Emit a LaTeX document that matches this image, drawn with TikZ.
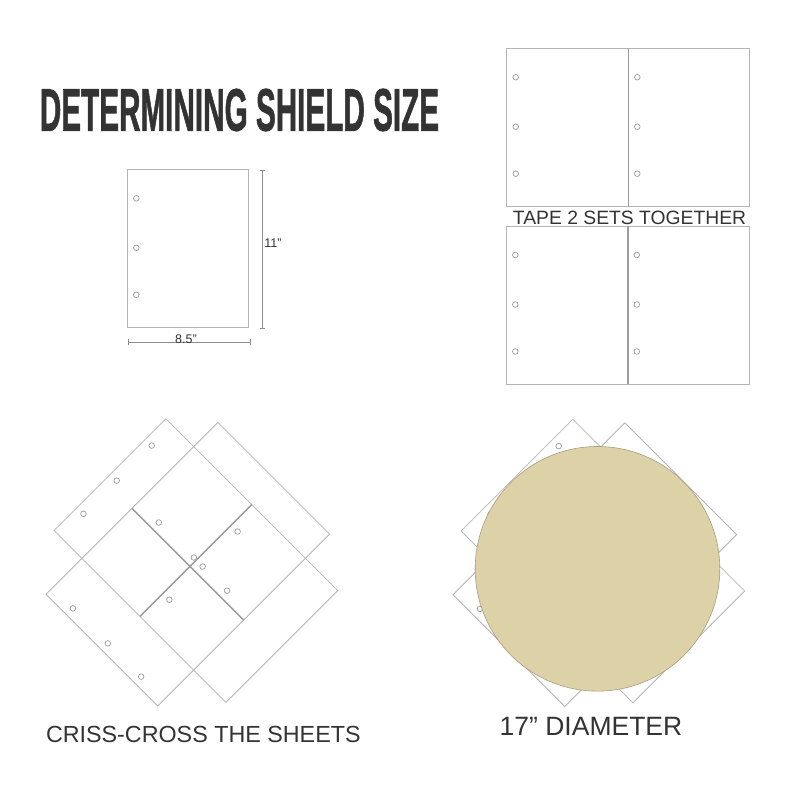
\documentclass[tikz,border=0pt]{standalone}
\usepackage{fontspec}
\setmainfont{Liberation Sans}
\newfontfamily\titlefont[BoldFeatures={FakeBold=1.5}]{Liberation Sans}
\definecolor{sheetline}{HTML}{B4B4B4}
\definecolor{tapeline}{HTML}{9C9C9C}
\definecolor{holeline}{HTML}{A0A0A0}
\definecolor{dimline}{HTML}{8C8C8C}
\definecolor{inktext}{HTML}{333333}
\definecolor{shield}{HTML}{DDD1A8}
\definecolor{shieldedge}{HTML}{A89E80}
\tikzset{
  sheetedge/.style={draw=sheetline, line width=0.8pt},
  tape/.style={draw=tapeline, line width=1.4pt},
  hole/.style={draw=holeline, line width=0.75pt},
  dimen/.style={draw=dimline, line width=0.8pt},
  captext/.style={text=inktext, inner sep=0pt},
  sheet/.pic={
    \draw[sheetedge] (0,0) rectangle (121.5,158);
    \foreach \hy in {29,78.5,125.5}
      \draw[hole] (9,\hy) circle[radius=2.8pt];
  },
  sheetpair/.pic={
    \pic[transform shape] at (-121.5,-79) {sheet};
    \pic[transform shape] at (0,-79) {sheet};
    \draw[tape] (0,-79) -- (0,79);
  }
}
\begin{document}
\begin{tikzpicture}[x=1pt,y=-1pt]
 \useasboundingbox[fill=white] (0,0) rectangle (794,794);
 \node[captext, font=\titlefont\bfseries\fontsize{60}{60}\selectfont] (title) at (239.5,110) {\scalebox{0.495}[1]{DETERMINING SHIELD SIZE}};

 \pic at (127.3,169.3) {sheet};
 \coordinate (htop) at (262.4,170.3);
 \coordinate (hbot) at (262.4,328.3);
 \draw[dimen] (htop) -- (hbot);
 \draw[dimen] ([xshift=-2.5pt]htop) -- ([xshift=2.5pt]htop);
 \draw[dimen] ([xshift=-2.5pt]hbot) -- ([xshift=2.5pt]hbot);
 \coordinate (wleft) at (128,342.3);
 \coordinate (wright) at (250.7,342.3);
 \draw[dimen] (wleft) -- (wright);
 \draw[dimen] ([yshift=-3pt]wleft) -- ([yshift=3pt]wleft);
 \draw[dimen] ([yshift=-3pt]wright) -- ([yshift=3pt]wright);
 \node[captext, font=\fontsize{12.5}{13}\selectfont] (height) at (273,242.8) {11”};
 \node[captext, font=\fontsize{12.5}{13}\selectfont] (width) at (186,338.8) {8.5”};

 \pic at (628.3,127.2) {sheetpair};
 \node[captext, font=\fontsize{19.3}{20}\selectfont] (together) at (629.5,218) {TAPE 2 SETS TOGETHER};
 \pic at (627.8,305) {sheetpair};

 \pic[rotate=45] at (187.8,564.2) {sheetpair};
 \pic[rotate=-45] at (195.9,560.5) {sheetpair};
 \node[captext, font=\fontsize{23.3}{24}\selectfont] (criss) at (203.3,734) {CRISS-CROSS THE SHEETS};

 \pic[rotate=45] at (594.8,564.7) {sheetpair};
 \pic[rotate=-45] at (602.9,561) {sheetpair};
 \draw[fill=shield, draw=shieldedge, line width=0.6pt] (597.5,568.8) circle[radius=122.3pt];
 \node[captext, font=\fontsize{26.5}{27}\selectfont] (diameter) at (591,726.2) {17” DIAMETER};
\end{tikzpicture}
\end{document}
